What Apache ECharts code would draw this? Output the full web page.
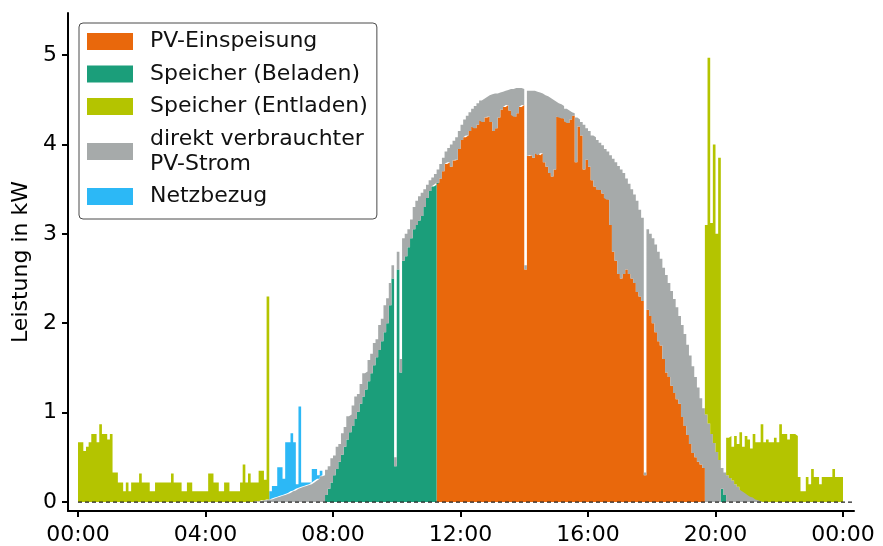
<!DOCTYPE html>
<html>
<head>
<meta charset="utf-8">
<script src="https://cdn.jsdelivr.net/npm/echarts@6/dist/echarts.min.js"></script>
<style>html,body{margin:0;padding:0;background:#fff}#c{width:883px;height:546px}</style>
</head>
<body>
<div id="c"></div>
<script>
// ---- data (kW), readings every 5 minutes; index i = minute/5 ----
const STEP_MIN = 5;
const N_STEPS = 288;                       // 24 h
const tickHours = [0, 4, 8, 12, 16, 20, 24];
const yTicks = [0, 1, 2, 3, 4, 5];
const zeroLineHours = [0, 24.34];          // dashed 0-kW reference line

const names = {
  feed: 'PV-Einspeisung',
  charge: 'Speicher (Beladen)',
  discharge: 'Speicher (Entladen)',
  direct: 'direkt verbrauchter\nPV-Strom',
  grid: 'Netzbezug'
};

// Speicher (Entladen) 00:00 - 05:55 (index 0..71)
const dischargeNight = [0.67,0.67,0.57,0.62,0.67,0.76,0.76,0.67,0.87,0.76,0.76,0.7,0.76,
  0.33,0.33,0.22,0.22,0.12,0.22,0.12,0.22,0.22,0.22,0.32,0.22,0.22,0.22,0.12,0.12,
  0.22,0.22,0.22,0.22,0.22,0.22,0.32,0.22,0.22,0.22,0.12,0.12,0.22,0.22,
  0.12,0.12,0.12,0.12,0.12,0.12,0.32,0.32,0.22,0.22,0.12,0.12,0.22,0.22,
  0.12,0.12,0.12,0.12,0.22,0.42,0.22,0.32,0.22,0.22,0.21,0.34,0.33,0.23,2.27];
const dischargeNightStart = 0;
// Speicher (Entladen) from 19:40 (index 236..287); null = no discharge
const dischargeEvening = [2.12,4.09,2.36,3.34,2.44,3.38, 0,null,
  0.42,0.47,0.38,0.54,0.48,0.64,0.5,0.64,0.62,0.54,0.71,0.64,0.65,0.86,
  0.67,0.7,0.67,0.67,0.72,0.67,0.87,0.76,0.76,0.7,0.76,0.76,0.74,
  0.28,0.12,0.12,0.28,0.2,0.37,0.28,0.28,0.2,0.28,0.28,0.28,0.28,0.37,0.28,0.28,0.28];
const dischargeEveningStart = 236;

// Netzbezug from 06:00 (index 72..91)
const gridImport = [0.09,0.14,0.13,0.33,0.32,0.18,0.58,0.57,0.65,0.54,0.05,0.91,0.05,0.04,0.03,0.02,0.15,0.13,0.04,0.06];
const gridImportStart = 72;

// direkt verbrauchter PV-Strom from 05:30 (index 66..257)
const directUse = [0,0.01,0.01,0.02,0.02,0.03,
  0.03,0.04,0.05,0.06,0.07,0.08,0.09,0.1,0.12,0.13,0.15,0.16,0.17,0.18,0.19,0.2,0.22,0.24,0.26,0.29,
  0.3,0.28,0.25,0.27,0.22,0.25,0.2,0.24,0.22,0.26,0.2,0.23,0.25,0.2,0.22,0.26,0.2,0.24,0.22,0.25,0.2,0.28,0.25,0.3,0.28,
  0.25,0.15,0.1,0.2,0.15,0.25,0.25,0.2,0.21,0.25,0.27,0.27,0.26,0.2,0.15,0.12,0.1,0.12,
  0.15,0.16,0.15,0.14,0.16, 0.25,0.22,0.25,0.2,0.17, 0.2,0.22,0.21,0.2,0.25,
  0.24,0.22,0.26,0.23,0.24, 0.31,0.42,0.39,0.28,0.2, 0.18,0.17,0.24,0.29,0.32,
  0.28,0.21,0.18,0.05,0.73, 0.72,0.75,0.69,0.7,0.67, 0.75,0.79,0.84,0.86,0.76,
  0.15,0.15,0.14,0.14,0.14, 0.08,0.03,0.5,0.08,0.15, 0.5,0.35,0.4,0.5,0.55,
  0.55,0.53,0.54,0.55,0.54, 0.78,1.04,1.1,1.21,1.22, 1.13,1.02,1.01,1.0,0.99,
  1.02,0.97,0.93,0.03,0.9, 0.92,0.95,0.98,1.0,0.97, 1.02,1.09,1.05,1.06,1.05,
  1.03,0.98,1.03,1.03,1.01, 0.99,0.97,0.9,0.83,0.74, 0.67,
  0.98,0.88,0.76,0.66,0.56,0.47, 0.23,0.25,
  0.3,0.27,0.24,0.2,0.17,0.14,0.12,0.1,0.08,0.06,0.05,0.03,0.02,0.01];
const directUseStart = 66;

// Speicher (Beladen) from 07:40 (index 92..134) and 20:10 (index 242..243)
const chargeMorning = [0,0.08,0.15,0.22,0.3,0.37,0.45,0.53,0.62,0.7,
  0.78,0.85,0.93,1.01,1.1,1.18,1.26,1.35,1.44,1.53,
  1.62,1.7,1.8,1.9,2.0,2.2,2.5,0.4,2.6,1.45,
  2.7,2.75,2.85,2.95,3.05,3.1,3.15,3.2,3.3,3.4,
  3.48,3.53,3.55];
const chargeMorningStart = 92;
const chargeEvening = [0.15, 0.08];
const chargeEveningStart = 242;

// PV-Einspeisung from 11:15 (index 135..235)
const feedIn = [3.57,3.62,3.7,3.78,3.8, 3.75,3.82,3.83,3.95,4.05,
  4.08,4.1,4.15,4.2,4.18, 4.22,4.27,4.25,4.3,4.31,
  4.25,4.15,4.18,4.3,4.39, 4.42,4.44,4.38,4.33,4.31,
  4.35,4.42,4.44,2.6,3.87, 3.88,3.85,3.9,3.88,3.9,
  3.8,3.75,3.68,3.64,3.72, 4.31,4.3,4.29,4.26,4.24,
  4.28,4.32,3.8,4.2,4.1, 3.72,3.83,3.75,3.6,3.53,
  3.5,3.49,3.45,3.4,3.38, 3.1,2.8,2.7,2.55,2.5,
  2.55,2.6,2.55,2.5,2.45, 2.35,2.3,2.25,0.3,2.15,
  2.08,2.0,1.9,1.8,1.75, 1.6,1.45,1.4,1.3,1.22,
  1.15,1.1,0.95,0.85,0.75, 0.65,0.55,0.5,0.45,0.42, 0.38];
const feedInStart = 135;

// ---- build full-day series: readings inside the windows, a 0 right before/after, gaps elsewhere ----
// rows are [value, hour] so that the stack is applied to the value dimension
function fullDay(parts) {
  const v = new Array(N_STEPS + 1).fill(null);
  parts.forEach(([start, arr]) => arr.forEach((x, j) => { v[start + j] = x; }));
  parts.forEach(([start, arr]) => {
    const end = start + arr.length;
    if (start > 0 && v[start - 1] === null) v[start - 1] = 0;
    if (end <= N_STEPS && v[end] === null) v[end] = 0;
  });
  return v.map((val, i) => [val, i * STEP_MIN / 60]);
}
const sFeed = fullDay([[feedInStart, feedIn]]);
const sCharge = fullDay([[chargeMorningStart, chargeMorning], [chargeEveningStart, chargeEvening]]);
const sDirect = fullDay([[directUseStart, directUse]]);
const sGrid = fullDay([[gridImportStart, gridImport]]);
const sDischarge = fullDay([[dischargeNightStart, dischargeNight], [dischargeEveningStart, dischargeEvening]]);

const colors = {
  feed: '#E9680C', charge: '#1B9E7A', discharge: '#B4C400', direct: '#A6AAAA', grid: '#2CB8F6'
};
const FONT = 'DejaVu Sans';

function areaSeries(key, data) {
  return {
    name: names[key], type: 'line', stack: 'total', step: 'end',
    data: data, encode: { x: 1, y: 0 }, connectNulls: false,
    symbol: 'none', showSymbol: false, silent: true,
    lineStyle: { width: 0 }, itemStyle: { color: colors[key] },
    areaStyle: { color: colors[key], opacity: 1 }
  };
}

const chart = echarts.init(document.getElementById('c'), null, { renderer: 'canvas' });
chart.setOption({
  animation: false,
  backgroundColor: '#fff',
  grid: { left: 68, right: 29, top: 13, bottom: 34, containLabel: false },
  legend: {
    orient: 'vertical', left: 79, top: 23,
    itemWidth: 46, itemHeight: 17, itemGap: 7.5,
    padding: [6, 9, 10, 8],
    borderColor: '#4a4a4a', borderWidth: 1, borderRadius: 4, backgroundColor: '#fff',
    icon: 'rect', selectedMode: false,
    textStyle: { fontSize: 22, lineHeight: 25, color: '#111', fontFamily: FONT, padding: [0, 0, 0, 12] },
    data: [names.feed, names.charge, names.discharge, names.direct, names.grid]
  },
  xAxis: {
    type: 'value', min: -0.314, max: 24.345,
    axisLine: { show: true, onZero: false, lineStyle: { color: '#000', width: 2 } },
    axisTick: { show: true, customValues: tickHours, length: 6, lineStyle: { color: '#000', width: 2 } },
    axisLabel: {
      customValues: tickHours, fontSize: 22, color: '#000', fontFamily: FONT, margin: 13,
      formatter: v => String(Math.round(v) % 24).padStart(2, '0') + ':00'
    },
    splitLine: { show: false }
  },
  yAxis: {
    type: 'value', min: -0.1, max: 5.47,
    name: 'Leistung in kW', nameLocation: 'middle', nameRotate: 90, nameGap: 34,
    nameTextStyle: { fontSize: 22, color: '#000', fontFamily: FONT },
    axisLine: { show: true, onZero: false, lineStyle: { color: '#000', width: 2 } },
    axisTick: { show: true, customValues: yTicks, length: 6, lineStyle: { color: '#000', width: 2 } },
    axisLabel: { customValues: yTicks, fontSize: 22, color: '#000', fontFamily: FONT, margin: 11 },
    splitLine: { show: false }
  },
  series: [
    areaSeries('feed', sFeed),
    areaSeries('charge', sCharge),
    areaSeries('direct', sDirect),
    areaSeries('grid', sGrid),
    areaSeries('discharge', sDischarge),
    {
      type: 'line', silent: true, symbol: 'none', z: 5,
      data: zeroLineHours.map(h => [h, 0]),
      lineStyle: { color: '#222', type: [4, 3], width: 1.3 }
    }
  ]
});
</script>
</body>
</html>
